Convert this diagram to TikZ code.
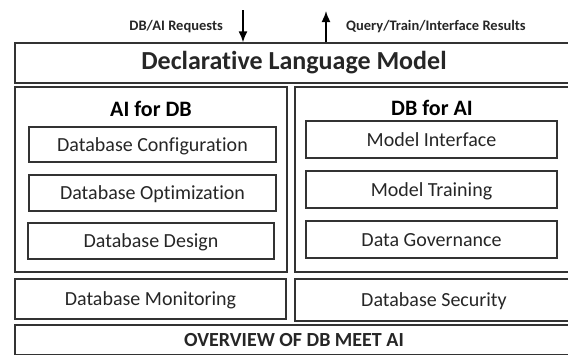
\documentclass[tikz,border=0pt]{standalone}
\usepackage{fontspec}
\setmainfont[Ligatures=NoCommon]{Carlito}
\usetikzlibrary{arrows.meta}

\tikzset{
  box/.style={draw=black!80, line width=1.3pt, inner sep=0pt, align=center, text=black!85},
  item/.style={box, font=\fontsize{20}{22}\selectfont, text height=13pt, text depth=0pt},
  heading/.style={font=\bfseries\fontsize{22}{24}\selectfont, inner sep=0pt},
  flowlabel/.style={font=\bfseries\fontsize{14.5}{16}\selectfont, inner sep=0pt, text=black!85},
  flow/.style={-{Latex[length=11pt, width=9pt]}, line width=1.6pt},
}

\begin{document}
\begin{tikzpicture}[x=1pt, y=-1pt]
    \useasboundingbox (0,0) rectangle (568,354);
    \clip (0,0) rectangle (568,354);

    % language layer on top
    \node[box, minimum width=558pt, minimum height=40pt,
          font=\bfseries\fontsize{26}{28}\selectfont] (dlm) at (294,63) {Declarative Language Model};

    % requests in, results out
    \coordinate (reqin) at (243,10);
    \coordinate (resout) at (326,11);
    \draw[flow] (reqin) -- (reqin |- dlm.north);
    \draw[flow] (resout |- dlm.north) -- (resout);
    \node[flowlabel, anchor=east] (reqlabel) at (223,27) {DB/AI Requests};
    \node[flowlabel, anchor=west] (reslabel) at (346,27) {Query/Train/Interface Results};

    % AI for DB
    \node[box, minimum width=272pt, minimum height=185pt] (aifordb) at (151,179.5) {};
    \node[heading] (aititle) at (151,109) {AI for DB};
    \node[item, minimum width=247pt, minimum height=35pt] (config) at (152.5,144.5) {Database Configuration};
    \node[item, minimum width=247pt, minimum height=36pt] (optim) at (152.5,193) {Database Optimization};
    \node[item, minimum width=246pt, minimum height=36pt] (design) at (151,241) {Database Design};

    % DB for AI
    \node[box, minimum width=278pt, minimum height=185pt] (dbforai) at (434,179.5) {};
    \node[heading] (dbtitle) at (432,108) {DB for AI};
    \node[item, minimum width=251pt, minimum height=37pt] (iface) at (431.5,139.5) {Model Interface};
    \node[item, minimum width=251pt, minimum height=37pt] (train) at (431.5,189.5) {Model Training};
    \node[item, minimum width=251pt, minimum height=37pt] (govern) at (431.5,239.5) {Data Governance};

    % shared services
    \node[item, minimum width=271pt, minimum height=40pt] (monitor) at (150.5,299) {Database Monitoring};
    \node[item, minimum width=278pt, minimum height=42pt] (security) at (434,300) {Database Security};

    % caption bar
    \node[box, minimum width=558pt, minimum height=30pt,
          font=\bfseries\fontsize{20}{22}\selectfont] (overview) at (294,340) {OVERVIEW OF DB MEET AI};
\end{tikzpicture}
\end{document}
